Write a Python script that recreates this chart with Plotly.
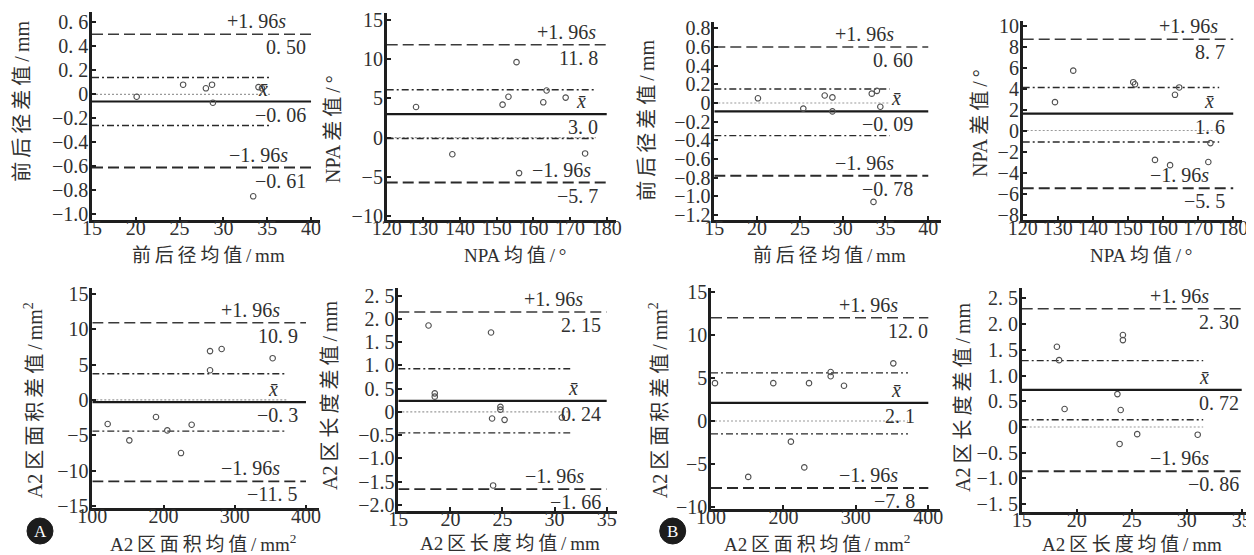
import plotly.graph_objects as go

W, H = 1254, 555
OFF = 8  # page body margin offset (px) of the rendered html
FONT = "Liberation Serif, Noto Sans CJK SC, serif"
TXT = "#303030"
TS = "\u2009"  # thin space used for the widely-spaced typesetting

# ---------------- data ----------------
p1_avg = [20.1, 25.4, 28.0, 28.7, 28.8, 33.4, 34.0, 34.4]
p1_diff = [-0.02, 0.08, 0.05, 0.08, -0.07, -0.85, 0.06, 0.05]
p1_limits = [0.50, -0.06, -0.61]          # +1.96s, mean, -1.96s
p1_ci = [0.14, -0.26]
p1_yticks = [0.6, 0.4, 0.2, 0, -0.2, -0.4, -0.6, -0.8, -1.0]
p1_yticktext = ["0. 6", "0. 4", "0. 2", "0", "−0.2", "−0.4", "−0.6", "−0.8", "−1.0"]
p1_xticks = [15, 20, 25, 30, 35, 40]

p2_avg = [128.0, 137.9, 151.6, 153.2, 155.4, 156.1, 162.7, 163.6, 168.8, 174.1]
p2_diff = [3.9, -2.1, 4.2, 5.2, 9.6, -4.5, 4.5, 6.0, 5.1, -2.0]
p2_limits = [11.8, 3.0, -5.7]
p2_ci = [6.1, -0.1]
p2_yticks = [15, 10, 5, 0, -5, -10]
p2_yticktext = ["15", "10", "5", "0", "−5", "−10"]
p2_xticks = [120, 130, 140, 150, 160, 170, 180]

p3_avg = [20.1, 25.4, 27.9, 28.8, 28.8, 33.4, 33.6, 34.4, 34.0]
p3_diff = [0.05, -0.06, 0.08, 0.06, -0.09, 0.10, -1.06, -0.04, 0.13]
p3_limits = [0.60, -0.09, -0.78]
p3_ci = [0.15, -0.35]
p3_yticks = [0.8, 0.6, 0.4, 0.2, 0, -0.2, -0.4, -0.6, -0.8, -1.0, -1.2]
p3_yticktext = ["0.8", "0.6", "0.4", "0.2", "0", "−0.2", "−0.4", "−0.6", "−0.8", "−1.0", "−1.2"]
p3_xticks = [15, 20, 25, 30, 35, 40]

p4_avg = [129.2, 134.4, 151.5, 152.0, 163.4, 164.6, 157.7, 162.0, 172.9, 173.5]
p4_diff = [2.7, 5.7, 4.6, 4.4, 3.4, 4.1, -2.8, -3.3, -3.0, -1.2]
p4_limits = [8.7, 1.6, -5.5]
p4_ci = [4.1, -1.1]
p4_yticks = [10, 8, 6, 4, 2, 0, -2, -4, -6, -8]
p4_yticktext = ["10", "8", "6", "4", "2", "0", "−2", "−4", "−6", "−8"]
p4_xticks = [120, 130, 140, 150, 160, 170, 180]

p5_avg = [121.6, 152.0, 189.4, 205.3, 224.5, 239.5, 265.3, 265.3, 281.6, 353.2]
p5_diff = [-3.4, -5.7, -2.4, -4.3, -7.5, -3.5, 6.9, 4.2, 7.2, 5.9]
p5_limits = [10.9, -0.3, -11.5]
p5_ci = [3.7, -4.4]
p5_yticks = [15, 10, 5, 0, -5, -10, -15]
p5_yticktext = ["15", "10", "5", "0", "−5", "−10", "−15"]
p5_xticks = [100, 200, 300, 400]

p6_avg = [17.9, 18.5, 18.5, 23.9, 24.0, 24.8, 24.8, 25.2, 24.1, 30.7]
p6_diff = [1.86, 0.40, 0.33, 1.71, -0.14, 0.11, 0.05, -0.17, -1.58, -0.12]
p6_limits = [2.15, 0.24, -1.66]
p6_ci = [0.93, -0.45]
p6_yticks = [2.5, 2.0, 1.5, 1.0, 0.5, 0, -0.5, -1.0, -1.5, -2.0]
p6_yticktext = ["2. 5", "2. 0", "1. 5", "1. 0", "0. 5", "0", "−0.5", "−1.0", "−1.5", "−2.0"]
p6_xticks = [15, 20, 25, 30, 35]

p7_avg = [105.5, 186.0, 235.3, 265.2, 265.2, 283.6, 351.7, 210.3, 228.8, 151.4]
p7_diff = [4.4, 4.4, 4.4, 5.2, 5.7, 4.1, 6.7, -2.4, -5.4, -6.5]
p7_limits = [12.0, 2.1, -7.8]
p7_ci = [5.6, -1.5]
p7_yticks = [15, 10, 5, 0, -5, -10]
p7_yticktext = ["15", "10", "5", "0", "−5", "−10"]
p7_xticks = [100, 200, 300, 400]

p8_avg = [18.2, 18.4, 18.9, 24.2, 24.2, 23.7, 24.0, 23.9, 25.5, 31.0]
p8_diff = [1.56, 1.30, 0.35, 1.79, 1.69, 0.64, 0.33, -0.33, -0.14, -0.15]
p8_limits = [2.30, 0.72, -0.86]
p8_ci = [1.29, 0.14]
p8_yticks = [2.5, 2.0, 1.5, 1.0, 0.5, 0, -0.5, -1.0, -1.5]
p8_yticktext = ["2. 5", "2. 0", "1. 5", "1. 0", "0. 5", "0", "−0. 5", "−1. 0", "−1. 5"]
p8_xticks = [15, 20, 25, 30, 35]

xtitles = ["前后径均值/mm", "NPA均值/°", "前后径均值/mm", "NPA均值/°",
           "A2区面积均值/mm²", "A2区长度均值/mm",
           "A2区面积均值/mm²", "A2区长度均值/mm"]
ytitles = ["前后径差值/mm", "NPA差值/°", "前后径差值/mm", "NPA差值/°",
           "A2区面积差值/mm²", "A2区长度差值/mm",
           "A2区面积差值/mm²", "A2区长度差值/mm"]
decimals = [2, 1, 2, 1, 1, 2, 1, 2]

panels = [
    (p1_avg, p1_diff, p1_limits, p1_ci, p1_yticks, p1_yticktext, p1_xticks),
    (p2_avg, p2_diff, p2_limits, p2_ci, p2_yticks, p2_yticktext, p2_xticks),
    (p3_avg, p3_diff, p3_limits, p3_ci, p3_yticks, p3_yticktext, p3_xticks),
    (p4_avg, p4_diff, p4_limits, p4_ci, p4_yticks, p4_yticktext, p4_xticks),
    (p5_avg, p5_diff, p5_limits, p5_ci, p5_yticks, p5_yticktext, p5_xticks),
    (p6_avg, p6_diff, p6_limits, p6_ci, p6_yticks, p6_yticktext, p6_xticks),
    (p7_avg, p7_diff, p7_limits, p7_ci, p7_yticks, p7_yticktext, p7_xticks),
    (p8_avg, p8_diff, p8_limits, p8_ci, p8_yticks, p8_yticktext, p8_xticks),
]

# ---------------- layout geometry (screen pixels) ----------------
geom = [
    ((92, 319.8, 11.5, 220.3), [15, 41], [-1.05, 0.69]),
    ((386.7, 615.9, 13.4, 220.3), [120, 182.5], [-10.5, 15.8]),
    ((714.3, 941.1, 21.8, 220.1), [15, 41.5], [-1.255, 0.87]),
    ((1022.7, 1242, 21.3, 219.75), [120, 182.5], [-8.5, 10.4]),
    ((92.3, 318.8, 288.1, 508.3), [100, 418], [-15.3, 15.8]),
    ((398.3, 617.1, 288.3, 511), [15, 36], [-2.13, 2.66]),
    ((711, 939.9, 287.7, 508.7), [100, 416], [-10.2, 15.5]),
    ((1021.7, 1252.7, 288.2, 512.3), [15, 36], [-1.66, 2.7]),
]
extents = [(40, 35.5), (180, 177), (40, 35.5), (180, 176),
           (400, 373), (35, 31.5), (400, 372), (35, 31.5)]
lab_pos = [(0.86, 0.95, 0.78), (0.92, 0.93, 0.88), (0.80, 0.885, 0.83), (0.90, 0.93, 0.88),
           (0.836, 0.917, 0.83), (0.853, 0.937, 0.83), (0.826, 0.957, 0.84), (0.82, 0.95, 0.82)]
mean_val_pos = [0.95, 0.93, 0.885, 0.93, 0.917, 0.937, 0.90, 0.95]
lower_val_pos = [0.95, 0.93, 0.885, 0.93, 0.917, 0.937, 0.90, 0.95]
lower_s_pos = [0.87, 0.90, 0.80, 0.86, 0.836, 0.86, 0.826, 0.82]
xt_pos = [(208, 255), (515, 255), (829, 255), (1141, 255),
          (203, 543), (510, 543), (817, 543), (1132, 544)]
yt_pos = [(21.7, 101), (333, 129), (646.7, 120), (980, 123),
          (33.3, 400), (330, 395), (658.3, 400), (963, 397)]


def px_x(p):
    return (p - OFF) / W


def px_y(p):
    return 1 - (p - OFF) / H


def fmt(v, d):
    s = f"{abs(v):.{d}f}".replace(".", ". ")
    return ("−" if v < 0 else "") + s


def spaced(s):
    """Insert thin spaces around CJK characters and the slash (wide typesetting)."""
    out = ""
    for k, ch in enumerate(s):
        out += ch
        if k + 1 < len(s):
            nxt = s[k + 1]
            if ord(ch) > 0x2E80 or ord(nxt) > 0x2E80 or ch == "/" or nxt == "/":
                out += TS
    return out.replace("²", "<sup>2</sup>")


fig = go.Figure()
annotations = []
layout_axes = {}

for i, (panel, g) in enumerate(zip(panels, geom)):
    avg, diff, limits, ci, ytv, ytt, xtv = panel
    (px0, px1, pyt, pyb), xr, yr = g
    n = i + 1
    xa = "x" if n == 1 else f"x{n}"
    ya = "y" if n == 1 else f"y{n}"
    xkey = "xaxis" if n == 1 else f"xaxis{n}"
    ykey = "yaxis" if n == 1 else f"yaxis{n}"
    long_end, short_end = extents[i]
    x0 = xr[0]

    fig.add_trace(go.Scatter(x=[x0, short_end], y=[0, 0], mode="lines", xaxis=xa, yaxis=ya,
                             line=dict(color="#9a9a9a", width=1.2, dash="2px,2px"),
                             showlegend=False, hoverinfo="skip"))
    for v in ci:
        fig.add_trace(go.Scatter(x=[x0, short_end], y=[v, v], mode="lines", xaxis=xa, yaxis=ya,
                                 line=dict(color="#2a2a2a", width=1.4, dash="7px,3px,2px,3px"),
                                 showlegend=False, hoverinfo="skip"))
    up, mean, lo = limits
    fig.add_trace(go.Scatter(x=[x0, long_end], y=[up, up], mode="lines", xaxis=xa, yaxis=ya,
                             line=dict(color="#3a3a3a", width=1.5, dash="11px,5px"),
                             showlegend=False, hoverinfo="skip"))
    fig.add_trace(go.Scatter(x=[x0, long_end], y=[lo, lo], mode="lines", xaxis=xa, yaxis=ya,
                             line=dict(color="#2a2a2a", width=1.9, dash="11px,5px"),
                             showlegend=False, hoverinfo="skip"))
    fig.add_trace(go.Scatter(x=[x0, long_end], y=[mean, mean], mode="lines", xaxis=xa, yaxis=ya,
                             line=dict(color="#1a1a1a", width=2.2),
                             showlegend=False, hoverinfo="skip"))
    fig.add_trace(go.Scatter(x=avg, y=diff, mode="markers", xaxis=xa, yaxis=ya,
                             marker=dict(symbol="circle-open", size=5.5, color="#505050",
                                         line=dict(width=1.1, color="#505050")),
                             showlegend=False))

    axcommon = dict(showline=True, linecolor="#1e1e1e", linewidth=2.6,
                    ticks="inside", ticklen=4, tickwidth=2, tickcolor="#1e1e1e",
                    showgrid=False, zeroline=False, automargin=False,
                    tickfont=dict(family=FONT, size=20, color=TXT))
    layout_axes[xkey] = dict(domain=[px_x(px0), px_x(px1)], anchor=ya, range=xr,
                             tickvals=xtv, ticktext=[str(t) for t in xtv], tickangle=0,
                             ticklabelstandoff=-12, **axcommon)
    layout_axes[ykey] = dict(domain=[px_y(pyb), px_y(pyt)], anchor=xa, range=yr,
                             tickvals=ytv, ticktext=ytt, ticklabelstandoff=-3, **axcommon)

    d = decimals[i]
    xd = f"{xa} domain"
    s_up, v_up, xbar_pos = lab_pos[i]
    common = dict(xref=xd, yref=ya, showarrow=False, xanchor="right",
                  font=dict(family=FONT, size=20, color=TXT))
    annotations += [
        dict(x=s_up, y=up, text="+1. 96<i>s</i>", yanchor="bottom", **common),
        dict(x=v_up, y=up, text=fmt(up, d), yanchor="top", **common),
        dict(x=xbar_pos, y=mean, text="<i>x̄</i>", yanchor="bottom", **common),
        dict(x=mean_val_pos[i], y=mean, text=fmt(mean, d), yanchor="top", **common),
        dict(x=lower_s_pos[i], y=lo, text="−1. 96<i>s</i>", yanchor="bottom", **common),
        dict(x=lower_val_pos[i], y=lo, text=fmt(lo, d), yanchor="top", **common),
    ]
    cx, cy = xt_pos[i]
    annotations.append(dict(x=px_x(cx), y=px_y(cy), xref="paper", yref="paper",
                            text=spaced(xtitles[i]), showarrow=False,
                            xanchor="center", yanchor="middle",
                            font=dict(family=FONT, size=19, color=TXT)))
    cx, cy = yt_pos[i]
    annotations.append(dict(x=px_x(cx), y=px_y(cy), xref="paper", yref="paper",
                            text=spaced(ytitles[i]), showarrow=False,
                            xanchor="center", yanchor="middle",
                            textangle=-90, font=dict(family=FONT, size=20, color=TXT)))

shapes = []
for label, (cx, cy) in [("A", (40, 531)), ("B", (672.7, 531))]:
    r = 13
    shapes.append(dict(type="circle", xref="paper", yref="paper",
                       x0=px_x(cx - r), x1=px_x(cx + r), y0=px_y(cy + r), y1=px_y(cy - r),
                       fillcolor="#1c1c1c", line=dict(color="#1c1c1c", width=1)))
    annotations.append(dict(x=px_x(cx), y=px_y(cy), xref="paper", yref="paper", text=label,
                            showarrow=False, xanchor="center", yanchor="middle",
                            font=dict(family=FONT, size=17, color="white")))

fig.update_layout(width=W, height=H,
                  margin=dict(l=0, r=0, t=0, b=0, pad=0, autoexpand=False),
                  paper_bgcolor="white", plot_bgcolor="white",
                  annotations=annotations, shapes=shapes, showlegend=False,
                  **layout_axes)

fig.write_html("out.html")
